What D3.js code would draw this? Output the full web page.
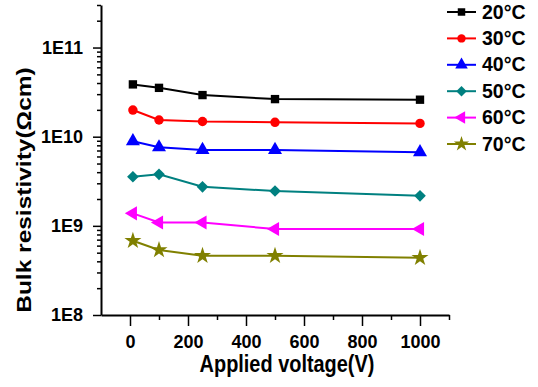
<!DOCTYPE html>
<html>
<head>
<meta charset="utf-8">
<script src="https://cdn.jsdelivr.net/npm/d3@7"></script>
<style>
  body { margin: 0; background: #fff; }
  text { font-family: 'Liberation Sans', Arial, sans-serif; font-weight: bold; }
</style>
</head>
<body>
<svg id="chart" width="538" height="387"></svg>
<script>
// data
const voltage = [10, 100, 250, 500, 1000]
const seriesNames = ['20°C', '30°C', '40°C', '50°C', '60°C', '70°C']
const r20 = [3.86e10, 3.53e10, 2.93e10, 2.64e10, 2.6e10]
const r30 = [1.99e10, 1.54e10, 1.48e10, 1.45e10, 1.41e10]
const r40 = [8.9e9, 7.6e9, 7.1e9, 7.1e9, 6.7e9]
const r50 = [3.55e9, 3.78e9, 2.74e9, 2.46e9, 2.17e9]
const r60 = [1.38e9, 1.09e9, 1.09e9, 9.2e8, 9.2e8]
const r70 = [6.8e8, 5.35e8, 4.62e8, 4.62e8, 4.39e8]
const xTicks = [0, 200, 400, 600, 800, 1000]
const yTicks = [1e8, 1e9, 1e10, 1e11]
const yTickLabels = ['1E8', '1E9', '1E10', '1E11']

const colors = ['#000000', '#ff0000', '#0000ff', '#008080', '#ff00ff', '#808000']
const shapes = [
  { type: d3.symbolSquare, size: 70, rot: 0 },
  { type: d3.symbolCircle, size: 70, rot: 0 },
  { type: d3.symbolTriangle, size: 85, rot: 0 },
  { type: d3.symbolSquare, size: 68, rot: 45 },
  { type: d3.symbolTriangle, size: 85, rot: -90 },
  { type: d3.symbolStar, size: 90, rot: 0 }
]
const allSeries = [r20, r30, r40, r50, r60, r70]

let svg = d3.select('#chart')
let x = d3.scaleLinear().domain([-100, 1100]).range([101, 449])
let y = d3.scaleLog().domain([1e8, 3e11]).range([315, 5])

// minor ticks
let minorY = []
for (let e = 8; e <= 11; e++) {
  for (let m = 2; m <= 9; m++) {
    let v = m * Math.pow(10, e)
    if (v <= 3e11) minorY.push(v)
  }
}
let minorX = [100, 300, 500, 700, 900, 1100]

let yAxisMinor = d3.axisLeft(y).tickValues(minorY).tickSize(4).tickSizeOuter(0).tickFormat('')
let gyMinor = svg.append('g').attr('transform', 'translate(101,0)').call(yAxisMinor)
gyMinor.select('.domain').remove()
let yAxis = d3.axisLeft(y).tickValues(yTicks).tickSize(8).tickSizeOuter(0).tickPadding(10)
  .tickFormat((d, i) => yTickLabels[i])
let gy = svg.append('g').attr('transform', 'translate(101,0)').call(yAxis)
gy.selectAll('text').attr('font-size', '18px').attr('fill', '#000')

let xAxisMinor = d3.axisBottom(x).tickValues(minorX).tickSize(5).tickSizeOuter(0).tickFormat('')
let gxMinor = svg.append('g').attr('transform', 'translate(0,315)').call(xAxisMinor)
gxMinor.select('.domain').remove()
let xAxis = d3.axisBottom(x).tickValues(xTicks).tickSize(11).tickSizeOuter(0).tickPadding(9)
  .tickFormat(d3.format('d'))
let gx = svg.append('g').attr('transform', 'translate(0,315)').call(xAxis)
gx.selectAll('text').attr('font-size', '18px').attr('fill', '#000')

svg.selectAll('.domain').attr('stroke', '#000').attr('stroke-width', 2)
svg.selectAll('.tick line').attr('stroke', '#000').attr('stroke-width', 1.5)

// axis titles
svg.append('text')
  .attr('transform', 'translate(287,372) scale(0.83,1)')
  .attr('text-anchor', 'middle')
  .attr('font-size', '24px')
  .text('Applied voltage(V)')
svg.append('text')
  .attr('transform', 'translate(31,190) scale(0.83,1) rotate(-90)')
  .attr('text-anchor', 'middle')
  .attr('font-size', '24.5px')
  .text('Bulk resistivity(Ωcm)')

// series
let line = d3.line()
  .x((d, i) => x(voltage[i]))
  .y(d => y(d))

allSeries.forEach((s, k) => {
  let g = svg.append('g')
  g.append('path')
    .attr('d', line(s))
    .attr('fill', 'none')
    .attr('stroke', colors[k])
    .attr('stroke-width', 2)
  g.selectAll('path.pt')
    .data(s)
    .enter()
    .append('path')
    .attr('class', 'pt')
    .attr('d', d3.symbol().type(shapes[k].type).size(shapes[k].size))
    .attr('transform', (d, i) => 'translate(' + x(voltage[i]) + ',' + y(d) + ') rotate(' + shapes[k].rot + ')')
    .attr('fill', colors[k])
})

// legend
let legend = svg.append('g')
seriesNames.forEach((name, k) => {
  let ly = 12 + k * 26.4
  legend.append('line')
    .attr('x1', 447).attr('x2', 476).attr('y1', ly).attr('y2', ly)
    .attr('stroke', colors[k]).attr('stroke-width', 2)
  legend.append('path')
    .attr('d', d3.symbol().type(shapes[k].type).size(shapes[k].size * 0.8))
    .attr('transform', 'translate(461.5,' + ly + ') rotate(' + shapes[k].rot + ')')
    .attr('fill', colors[k])
  legend.append('text')
    .attr('x', 482)
    .attr('y', ly + 6.5)
    .attr('font-size', '19.5px')
    .text(name)
})
</script>
</body>
</html>
